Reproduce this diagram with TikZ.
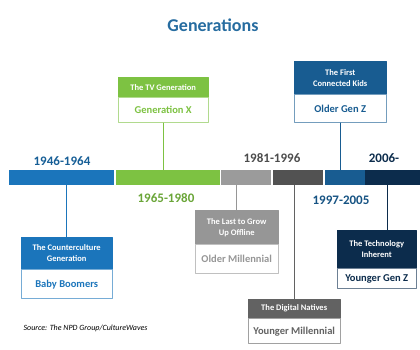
\documentclass[tikz,border=0pt]{standalone}
\usepackage{fontspec}
\setmainfont{Carlito}
\definecolor{cboom}{RGB}{27,117,187}
\definecolor{ctv}{RGB}{125,194,66}
\definecolor{coff}{RGB}{150,150,150}
\definecolor{cdig}{RGB}{98,98,98}
\definecolor{cold}{RGB}{24,92,145}
\definecolor{cyoung}{RGB}{12,44,76}
\definecolor{ctitle}{RGB}{38,108,160}
\begin{document}
\begin{tikzpicture}[x=1pt, y=-1pt, line join=round, line cap=round,
	seg/.style={fill=#1, draw=none, inner sep=0pt, minimum height=15pt, anchor=north west},
	head/.style={fill=#1, draw=#1, text=white, inner sep=1pt, align=center, anchor=north west,
		font=\fontsize{8.5}{11}\selectfont\bfseries},
	gen/.style={fill=white, draw=#1!60, line width=0.8pt, text=#1, inner sep=1pt, anchor=north,
		font=\fontsize{10.5}{12}\selectfont\bfseries},
	yr/.style={text=#1, font=\fontsize{13}{14}\selectfont\bfseries},
	link/.style={draw=#1, line width=1pt}]
	\useasboundingbox (0,0) rectangle (420,349);
	\node[text=ctitle, font=\fontsize{18}{20}\selectfont\bfseries] (title) at (213,25) {Generations};
	% timeline
	\node[seg=cboom, minimum width=105pt] (boom) at (9,170) {};
	\node[seg=ctv, minimum width=104pt] (tv) at (116,170) {};
	\node[seg=coff!95, minimum width=50pt] (off) at (221,170) {};
	\node[seg=cdig!110, minimum width=50pt] (dig) at (273,170) {};
	\node[seg=cold, minimum width=40pt] (old) at (325,170) {};
	\node[seg=cyoung, minimum width=55pt] (young) at (365,170) {};
	\node[yr=cboom!80!black] (boomyr) at (62,161) {1946-1964};
	\node[yr=ctv!85!black] (tvyr) at (166,198) {1965-1980};
	\node[yr=black!70] (millyr) at (272,158) {1981-1996};
	\node[yr=cold!90!black] (oldyr) at (341,200) {1997-2005};
	\node[yr=cyoung] (youngyr) at (384,158) {2006-};
	% boxes
	\node[head=cboom, minimum width=91pt, minimum height=32pt] (boomhead) at (21,237) {The Counterculture\\Generation};
	\node[gen=cboom, minimum width=91pt, minimum height=29pt] (boomname) at (boomhead.south) {Baby Boomers};
	\node[head=ctv, minimum width=90pt, minimum height=20pt] (tvhead) at (118,77) {The TV Generation};
	\node[gen=ctv, minimum width=90pt, minimum height=25pt] (tvname) at (tvhead.south) {Generation X};
	\node[head=coff, minimum width=83pt, minimum height=34pt] (offhead) at (195,210) {The Last to Grow\\Up Offline};
	\node[gen=coff, minimum width=83pt, minimum height=29pt] (offname) at (offhead.south) {Older Millennial};
	\node[head=cdig, minimum width=92pt, minimum height=19pt] (dighead) at (248,299) {The Digital Natives};
	\node[gen=cdig, minimum width=92pt, minimum height=25pt] (digname) at (dighead.south) {Younger Millennial};
	\node[head=cold, minimum width=92pt, minimum height=33pt] (oldhead) at (294,61) {The First\\Connected Kids};
	\node[gen=cold, minimum width=92pt, minimum height=28pt] (oldname) at (oldhead.south) {Older Gen Z};
	\node[head=cyoung, minimum width=79pt, minimum height=38pt] (younghead) at (337,230) {The Technology\\Inherent};
	\node[gen=cyoung, minimum width=79pt, minimum height=20pt] (youngname) at (younghead.south) {Younger Gen Z};
	% connectors
	\draw[link=cboom] (boomhead.north) -- (boomhead.north |- boom.south);
	\draw[link=ctv] (tvname.south) -- (tvname.south |- tv.north);
	\draw[link=coff] (offhead.north) -- (offhead.north |- off.south);
	\draw[link=cdig] (dighead.north) -- (dighead.north |- dig.south);
	\draw[link=cold] (oldname.south) -- (oldname.south |- old.north);
	\draw[link=cyoung] ([xshift=11pt]younghead.north) -- ([xshift=11pt]younghead.north |- young.south);
	\node[anchor=west, font=\fontsize{8}{9}\selectfont\itshape] (src) at (20,328) {Source: The NPD Group/CultureWaves};
\end{tikzpicture}
\end{document}
